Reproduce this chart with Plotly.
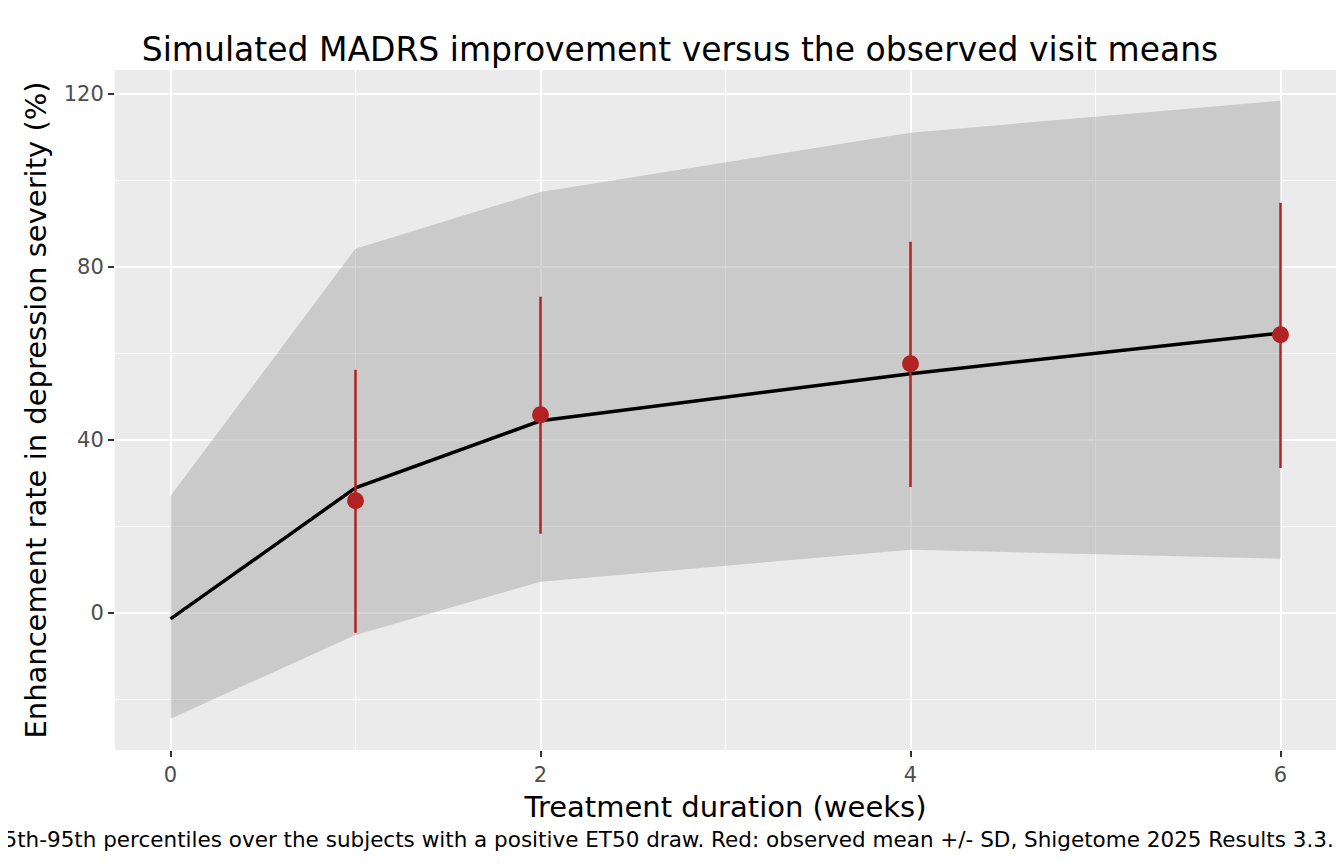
import plotly.graph_objects as go

weeks = [0, 1, 2, 4, 6]
band_hi = [27.0, 84.2, 97.3, 111.0, 118.4]
band_lo = [-24.5, -5.1, 7.2, 14.6, 12.5]
median = [-1.4, 28.9, 44.4, 55.3, 64.7]

obs_weeks = [1, 2, 4, 6]
obs_mean = [25.9, 45.8, 57.6, 64.3]
obs_hi = [56.2, 73.1, 85.8, 94.8]
obs_lo = [-4.6, 18.3, 29.1, 33.5]

fig = go.Figure()
fig.add_trace(go.Scatter(x=weeks, y=band_lo, mode="lines", line=dict(width=0), hoverinfo="skip"))
fig.add_trace(go.Scatter(x=weeks, y=band_hi, mode="lines", line=dict(width=0), fill="tonexty",
                         fillcolor="rgba(170,170,170,0.5)", hoverinfo="skip"))
fig.add_trace(go.Scatter(x=weeks, y=median, mode="lines", line=dict(color="black", width=3.5)))
for w, lo, hi in zip(obs_weeks, obs_lo, obs_hi):
    fig.add_trace(go.Scatter(x=[w, w], y=[lo, hi], mode="lines", line=dict(color="#B22222", width=2.5)))
fig.add_trace(go.Scatter(x=obs_weeks, y=obs_mean, mode="markers",
                         marker=dict(color="#B22222", size=17)))

fig.update_layout(
    width=1344, height=864, showlegend=False,
    paper_bgcolor="white", plot_bgcolor="#EBEBEB",
    margin=dict(l=107, r=16, t=62, b=122),
    font=dict(family="DejaVu Sans", color="black"),
    title=dict(text="Simulated MADRS improvement versus the observed visit means",
               x=0.5, xanchor="center", y=0.965, font=dict(size=33)),
    annotations=[dict(
        text="Black: median, grey band: 5th-95th percentiles over the subjects with a positive ET50 draw. "
             "Red: observed mean +/- SD, Shigetome 2025 Results 3.3.",
        xref="paper", yref="paper", x=1.0, y=-0.11, xanchor="right", yanchor="top",
        showarrow=False, font=dict(size=21.5))],
)
fig.update_xaxes(range=[-0.3, 6.3], tickvals=[0, 2, 4, 6], gridcolor="white", gridwidth=2.2,
                 minor=dict(tickvals=[1, 3, 5], gridcolor="white", gridwidth=1.1),
                 zeroline=False, ticks="outside", ticklen=6, tickcolor="#333", tickwidth=1.5,
                 automargin=False, tickfont=dict(size=21, color="#4D4D4D"),
                 title=dict(text="Treatment duration (weeks)", font=dict(size=29), standoff=10))
fig.update_yaxes(range=[-31.7, 125.5], tickvals=[0, 40, 80, 120], gridcolor="white", gridwidth=2.2,
                 minor=dict(tickvals=[-20, 20, 60, 100], gridcolor="white", gridwidth=1.1),
                 zeroline=False, ticks="outside", ticklen=6, tickcolor="#333", tickwidth=1.5,
                 automargin=False, tickfont=dict(size=21, color="#4D4D4D"),
                 title=dict(text="Enhancement rate in depression severity (%)", font=dict(size=29), standoff=8))

fig.write_html("out.html")
